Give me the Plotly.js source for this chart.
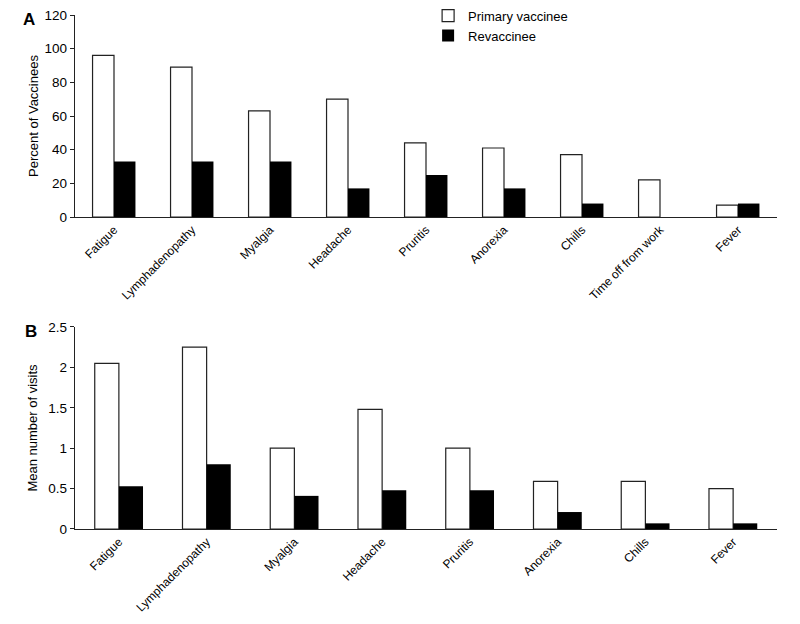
<!DOCTYPE html>
<html><head><meta charset="utf-8">
<script src="https://cdn.plot.ly/plotly-3.0.1.min.js"></script>
<style>html,body{margin:0;padding:0;background:#fff}</style>
</head><body>
<div id="chart" style="width:800px;height:624px"></div>
<script>
var catsA = ["Fatigue","Lymphadenopathy","Myalgia","Headache","Pruritis","Anorexia","Chills","Time off from work","Fever"];
var primaryA = [96, 89, 63, 70, 44, 41, 37, 22, 7];
var revacA = [33, 33, 33, 17, 25, 17, 8, 0, 8];

var catsB = ["Fatigue","Lymphadenopathy","Myalgia","Headache","Pruritis","Anorexia","Chills","Fever"];
var primaryB = [2.05, 2.25, 1.0, 1.48, 1.0, 0.59, 0.59, 0.5];
var revacB = [0.53, 0.8, 0.41, 0.48, 0.48, 0.21, 0.07, 0.07];

var font = "Liberation Sans, Arial, sans-serif";
var primStyle = {color:"#ffffff", line:{color:"#222", width:1.2}};
var revStyle = {color:"#000000", line:{color:"#000", width:0}};

var data = [
  {type:"bar", x:catsA, y:primaryA, name:"Primary vaccinee", marker:primStyle, xaxis:"x", yaxis:"y", legendgroup:"p"},
  {type:"bar", x:catsA, y:revacA, name:"Revaccinee", marker:revStyle, xaxis:"x", yaxis:"y", legendgroup:"r"},
  {type:"bar", x:catsB, y:primaryB, name:"Primary vaccinee", marker:primStyle, xaxis:"x2", yaxis:"y2", showlegend:false, legendgroup:"p"},
  {type:"bar", x:catsB, y:revacB, name:"Revaccinee", marker:revStyle, xaxis:"x2", yaxis:"y2", showlegend:false, legendgroup:"r"}
];

var xcommon = {showline:true, linecolor:"#222", linewidth:1.2, ticks:"", tickangle:-45,
  tickfont:{family:font, size:12, color:"#000"}, showgrid:false, zeroline:false, automargin:false};
var ycommon = {showline:true, linecolor:"#222", linewidth:1.2, ticks:"outside", ticklen:4, tickcolor:"#222",
  tickfont:{family:font, size:13.5, color:"#000"}, showgrid:false, zeroline:false, automargin:false};

var layout = {
  width:800, height:624,
  margin:{l:75, r:23, t:15, b:95, autoexpand:false},
  paper_bgcolor:"#fff", plot_bgcolor:"#fff",
  barmode:"group", bargap:0.45, bargroupgap:0,
  font:{family:font, color:"#000"},
  xaxis: Object.assign({}, xcommon, {anchor:"y", domain:[0,1]}),
  yaxis: Object.assign({}, ycommon, {anchor:"x", domain:[0.607,1], range:[0,120], dtick:20,
    title:{text:"Percent of Vaccinees", font:{family:font, size:13}, standoff:3}}),
  xaxis2: Object.assign({}, xcommon, {anchor:"y2", domain:[0,1]}),
  yaxis2: Object.assign({}, ycommon, {anchor:"x2", domain:[0,0.393], range:[0,2.5], dtick:0.5,
    title:{text:"Mean number of visits", font:{family:font, size:13}, standoff:7}}),
  showlegend:true,
  legend:{x:0.503, xanchor:"left", xref:"paper", y:0.999, yref:"container", yanchor:"top", font:{family:font, size:13}, bgcolor:"rgba(0,0,0,0)", tracegroupgap:0},
  annotations:[
    {text:"<b>A</b>", xref:"paper", yref:"paper", x:-0.065, y:0.992, xanchor:"center", yanchor:"middle", showarrow:false, font:{family:font, size:17}},
    {text:"<b>B</b>", xref:"paper", yref:"paper", x:-0.063, y:0.385, xanchor:"center", yanchor:"middle", showarrow:false, font:{family:font, size:17}}
  ]
};
Plotly.newPlot("chart", data, layout, {displayModeBar:false, staticPlot:true});
</script>
</body></html>
